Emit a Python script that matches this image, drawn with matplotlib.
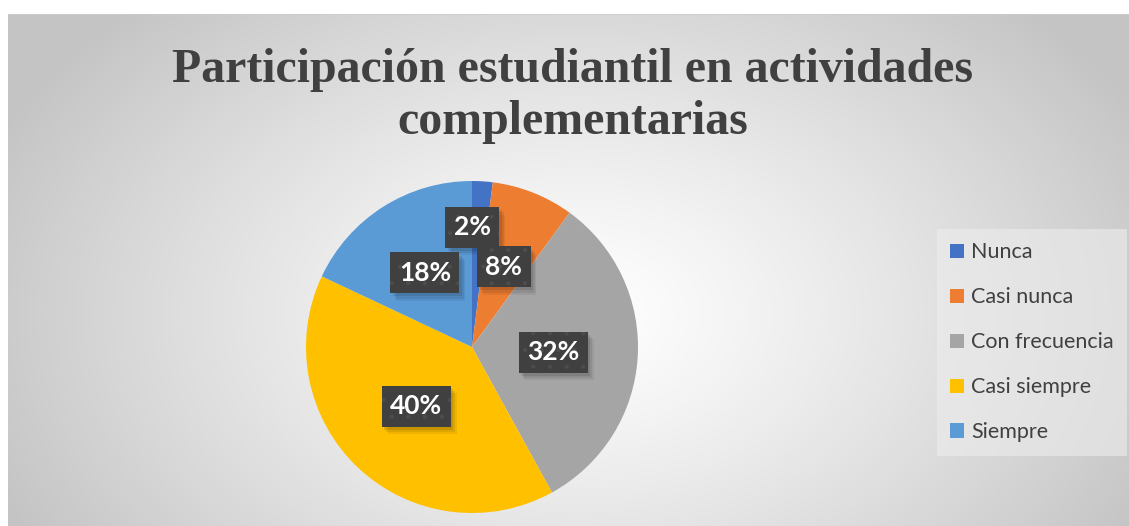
import numpy as np
import matplotlib
matplotlib.use('Agg')
import matplotlib.pyplot as plt

# Data
categories = ["Nunca", "Casi nunca", "Con frecuencia", "Casi siempre", "Siempre"]
values = [2, 8, 32, 40, 18]
colors = ["#4472C4", "#ED7D31", "#A5A5A5", "#FFC000", "#5B9BD5"]
# Excel nudges the smallest label outward and toward the top
label_dist = [0.72, 0.52, 0.49, 0.49, 0.53]
label_nudge = [3.4, 0, 0, 0, 0]  # degrees
title = "Participación estudiantil en actividades\ncomplementarias"

plt.rcParams['hatch.linewidth'] = 0.6

W, H = 1129, 526
fig = plt.figure(figsize=(W / 100, H / 100), dpi=100)
fig.patch.set_facecolor("white")

# Radial gradient background of the chart area
bg = fig.add_axes([8 / W, 0, (W - 8) / W, (H - 14) / H])
bg.set_axis_off()
yy, xx = np.mgrid[0:512, 0:1121]
cx, cy = 570, 300
d = np.sqrt(((xx - cx) / 640.0) ** 2 + ((yy - cy) / 430.0) ** 2)
d = np.clip(d, 0, 1)
shade = 1.0 - 0.23 * d ** 1.2
bg.imshow(np.dstack([shade] * 3), aspect="auto", extent=[0, 1, 0, 1])
bg.set_xlim(0, 1)
bg.set_ylim(0, 1)
bg.plot([0, 1], [1, 1], color="#cccccc", lw=1.2)

fig.text(573 / W, 1 - 96 / H, title, ha="center", va="center",
         fontsize=34.5, fontweight="bold", family=["Liberation Serif", "DejaVu Serif"],
         color="#404040", linespacing=1.25)

# Pie
ax = fig.add_axes([(472 - 166) / W, (H - 513) / H, 332 / W, 332 / H])
wedges, _ = ax.pie(values, colors=colors, startangle=90, counterclock=False,
                   radius=1.0, wedgeprops=dict(linewidth=0))
ax.set_xlim(-1, 1)
ax.set_ylim(-1, 1)
ax.set_aspect("equal")

for w, v, r, nd in zip(wedges, values, label_dist, label_nudge):
    ang = np.deg2rad((w.theta1 + w.theta2) / 2 + nd)
    x, y = r * np.cos(ang), r * np.sin(ang)
    # soft drop shadow
    for k, a in [(0.035, 0.06), (0.025, 0.08), (0.015, 0.10)]:
        ax.text(x + k, y - k * 1.3, f"{v}%", ha="center", va="center",
                fontsize=19, fontweight="bold", family="Lato", color="none",
                bbox=dict(boxstyle="square,pad=0.32", fc="black", ec="none", alpha=a))
    ax.text(x, y, f"{v}%", ha="center", va="center",
            fontsize=19, fontweight="bold", family="Lato", color="white",
            bbox=dict(boxstyle="square,pad=0.32", fc="#404040", ec="#4d4d4d",
                      lw=0, hatch="."))

leg = fig.legend(wedges, categories, loc="upper left",
                 bbox_to_anchor=(937 / W, 1 - 229 / H),
                 frameon=True, fancybox=False, handlelength=0.65, handleheight=0.65,
                 handletextpad=0.3, labelspacing=1.16, borderpad=0.62, borderaxespad=0,
                 prop=dict(family="Lato", size=15.5))
leg.get_frame().set_facecolor("#ededed")
leg.get_frame().set_alpha(0.6)
leg.get_frame().set_edgecolor("none")
for t in leg.get_texts():
    t.set_color("#404040")

fig.savefig("out.png", dpi=100)
